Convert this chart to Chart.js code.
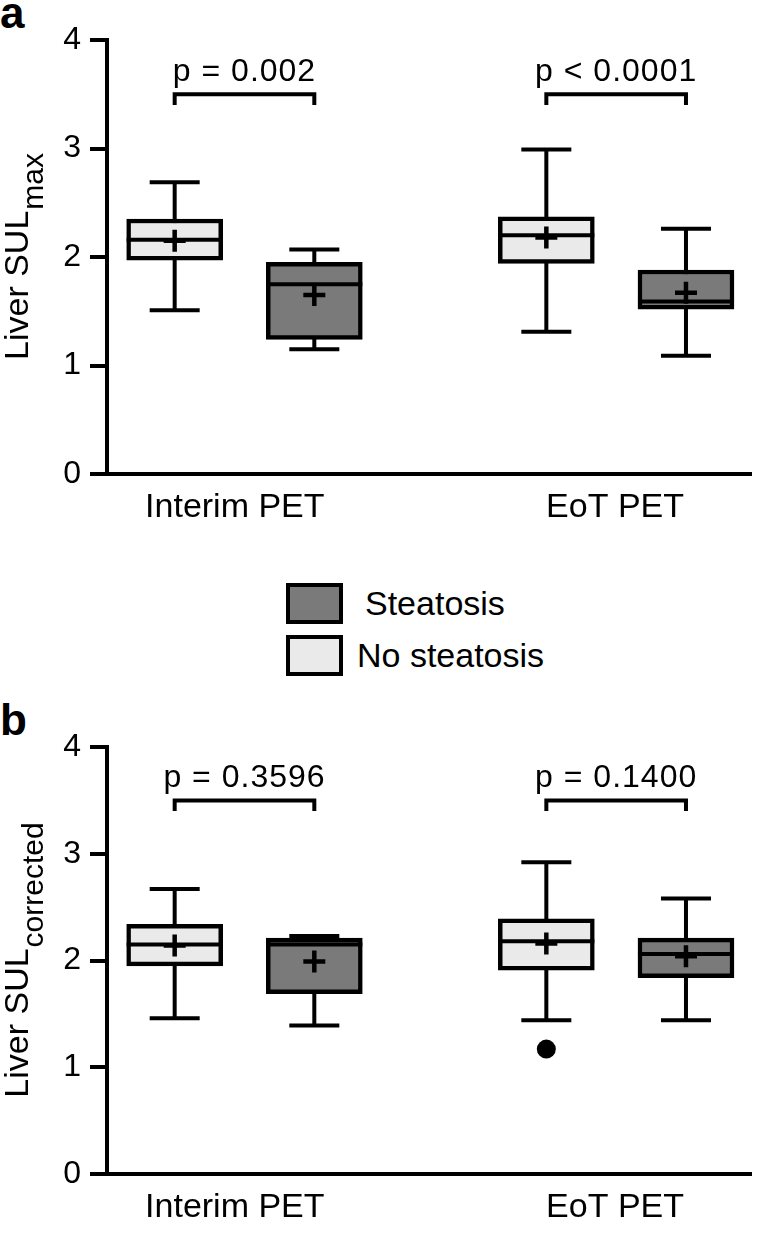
<!DOCTYPE html>
<html>
<head>
<meta charset="utf-8">
<script src="https://cdn.jsdelivr.net/npm/chart.js@4.4.1/dist/chart.umd.min.js"></script>
<style>
html,body{margin:0;padding:0;background:#fff;}
body{width:767px;height:1239px;position:relative;overflow:hidden;font-family:"Liberation Sans",Arial,sans-serif;color:#000;}
canvas{position:absolute;left:0;}
#ca{top:0;}
#cb{top:707px;}
.plabel{position:absolute;left:0;font-weight:bold;font-size:44px;line-height:1;}
.sw{position:absolute;left:286px;width:57px;height:41px;border:4px solid #000;box-sizing:border-box;}
.lt{position:absolute;font-size:34px;line-height:1;white-space:nowrap;}
</style>
</head>
<body>
<div class="plabel" style="top:-9px;">a</div>
<div class="plabel" style="top:698px;">b</div>
<canvas id="ca" width="767" height="545"></canvas>
<canvas id="cb" width="767" height="532"></canvas>
<div class="sw" style="top:583px;background:#7a7a7a;"></div>
<div class="lt" style="left:365px;top:586px;">Steatosis</div>
<div class="sw" style="top:635px;background:#eaeaea;"></div>
<div class="lt" style="left:357px;top:638px;">No steatosis</div>
<script>
// ---------- DATA ----------
const categories = ['Interim PET', 'EoT PET'];
const groupNames = ['Steatosis', 'No steatosis'];
const yTicks = [0, 1, 2, 3, 4];

// five-number summaries per category: [min, q1, median, q3, max]
const sulMaxNoSteatosis = [[1.51, 1.97, 2.16, 2.35, 2.69], [1.31, 1.94, 2.20, 2.37, 2.99]];
const sulMaxNoSteatosisMean = [2.15, 2.18];
const sulMaxSteatosis = [[1.15, 1.24, 1.75, 1.95, 2.07], [1.09, 1.52, 1.59, 1.88, 2.26]];
const sulMaxSteatosisMean = [1.65, 1.67];
const sulMaxPValues = ['p = 0.002', 'p < 0.0001'];

const sulCorrNoSteatosis = [[1.46, 1.95, 2.15, 2.34, 2.67], [1.44, 1.91, 2.18, 2.39, 2.92]];
const sulCorrNoSteatosisMean = [2.14, 2.16];
const sulCorrNoSteatosisOutliers = [[], [1.17]];
const sulCorrSteatosis = [[1.39, 1.69, 2.15, 2.21, 2.23], [1.44, 1.84, 2.06, 2.21, 2.58]];
const sulCorrSteatosisMean = [1.99, 2.04];
const sulCorrPValues = ['p = 0.3596', 'p = 0.1400'];

// ---------- LAYOUT / STYLE ----------
const groupPos = [1.28, 4.74];     // category centres on the x scale (0..6)
const labelPos = [1.19, 4.73];     // where the category names sit
const boxOffset = 0.65;            // offset of each box from its category centre
const bracketY = [3.4, 3.5];       // bracket legs bottom / top value
const FONT = "'Liberation Sans', Arial, sans-serif";
const LIGHT = '#eaeaea', DARK = '#7a7a7a';
Chart.defaults.font.family = FONT;
Chart.defaults.color = '#000';

function makePanel(id, noSt, noStMean, st, stMean, outliers, pvals, titleMain, titleSub, axisBottomOffset) {
  const canvas = document.getElementById(id);
  const xNo = groupPos.map(g => g - boxOffset);
  const xSt = groupPos.map(g => g + boxOffset);
  const boxes = [
    {x: xNo, s: noSt}, {x: xSt, s: st}
  ];
  const boxPlugin = {
    id: 'boxparts',
    beforeDatasetsDraw(chart) {
      const {ctx} = chart; const xs = chart.scales.x, ys = chart.scales.y;
      ctx.save(); ctx.strokeStyle = '#000'; ctx.lineWidth = 4; ctx.lineCap = 'butt';
      boxes.forEach(b => b.s.forEach((f, i) => {
        const cx = xs.getPixelForValue(b.x[i]);
        const yMin = ys.getPixelForValue(f[0]), yMax = ys.getPixelForValue(f[4]);
        ctx.beginPath();
        ctx.moveTo(cx, yMin); ctx.lineTo(cx, yMax);
        ctx.moveTo(cx - 25, yMin); ctx.lineTo(cx + 25, yMin);
        ctx.moveTo(cx - 25, yMax); ctx.lineTo(cx + 25, yMax);
        ctx.stroke();
      }));
      ctx.restore();
    },
    afterDatasetDraw(chart, args) {
      if (args.index > 1) return;
      const {ctx} = chart; const ys = chart.scales.y;
      const meta = chart.getDatasetMeta(args.index);
      const b = boxes[args.index];
      ctx.save(); ctx.strokeStyle = '#000'; ctx.lineWidth = 4;
      meta.data.forEach((el, i) => {
        const y = ys.getPixelForValue(b.s[i][2]);
        ctx.beginPath(); ctx.moveTo(el.x - el.width / 2, y); ctx.lineTo(el.x + el.width / 2, y); ctx.stroke();
      });
      ctx.restore();
    },
    afterDraw(chart) {
      const {ctx, chartArea} = chart; const xs = chart.scales.x, ys = chart.scales.y;
      ctx.save();
      ctx.strokeStyle = '#000'; ctx.fillStyle = '#000'; ctx.lineWidth = 4;
      pvals.forEach((p, i) => {
        const x1 = xs.getPixelForValue(xNo[i]), x2 = xs.getPixelForValue(xSt[i]);
        const yb = ys.getPixelForValue(bracketY[0]), yt = ys.getPixelForValue(bracketY[1]);
        ctx.beginPath();
        ctx.moveTo(x1, yb); ctx.lineTo(x1, yt); ctx.lineTo(x2, yt); ctx.lineTo(x2, yb);
        ctx.stroke();
        ctx.font = '32px ' + FONT;
        ctx.letterSpacing = '1px';
        ctx.textAlign = 'center'; ctx.textBaseline = 'alphabetic';
        ctx.fillText(p, (x1 + x2) / 2, yt - 13);
      });
      // y axis title with subscript
      ctx.letterSpacing = '0px';
      const cy = (chartArea.top + chartArea.bottom) / 2;
      ctx.translate(28, cy); ctx.rotate(-Math.PI / 2);
      ctx.textAlign = 'left'; ctx.textBaseline = 'alphabetic';
      ctx.font = '34px ' + FONT; const w1 = ctx.measureText(titleMain).width;
      ctx.font = '30px ' + FONT; const w2 = ctx.measureText(titleSub).width;
      const start = -(w1 + w2) / 2;
      ctx.font = '34px ' + FONT; ctx.fillText(titleMain, start, 0);
      ctx.font = '30px ' + FONT; ctx.fillText(titleSub, start + w1 + 1, 15);
      ctx.restore();
    }
  };
  const outPts = [];
  outliers.forEach((arr, i) => arr.forEach(v => outPts.push({x: xNo[i], y: v})));
  return new Chart(canvas, {
    type: 'bar',
    data: {
      datasets: [
        {label: groupNames[1], data: noSt.map((f, i) => ({x: xNo[i], y: [f[1], f[3]]})),
         backgroundColor: LIGHT, borderColor: '#000', borderWidth: 4.5, borderSkipped: false,
         grouped: false, barThickness: 96, order: 2},
        {label: groupNames[0], data: st.map((f, i) => ({x: xSt[i], y: [f[1], f[3]]})),
         backgroundColor: DARK, borderColor: '#000', borderWidth: 4.5, borderSkipped: false,
         grouped: false, barThickness: 96, order: 2},
        {type: 'scatter', label: 'mean', data: noStMean.map((v, i) => ({x: xNo[i], y: v})).concat(stMean.map((v, i) => ({x: xSt[i], y: v}))),
         pointStyle: 'cross', pointRadius: 11, pointBorderWidth: 4.5, borderColor: '#000', order: 0},
        {type: 'scatter', label: 'outliers', data: outPts,
         pointStyle: 'circle', pointRadius: 9.5, backgroundColor: '#000', borderColor: '#000', pointBorderWidth: 0, order: 0}
      ]
    },
    options: {
      responsive: false, animation: false, devicePixelRatio: 1,
      layout: {padding: {left: 0, right: 9, top: 40, bottom: 0}},
      plugins: {legend: {display: false}, tooltip: {enabled: false}},
      scales: {
        x: {
          type: 'linear', min: 0, max: 6, offset: false, bounds: 'data',
          afterBuildTicks: s => { s.ticks = labelPos.map(v => ({value: v})); },
          afterFit: s => { s.height = axisBottomOffset; },
          ticks: {callback: (v, i) => categories[i], font: {size: 34}, color: '#000', padding: 13, maxRotation: 0, autoSkip: false},
          grid: {display: false, drawTicks: false},
          border: {display: true, color: '#000', width: 4}
        },
        y: {
          min: 0, max: 4,
          afterBuildTicks: s => { s.ticks = yTicks.map(v => ({value: v})); },
          afterFit: s => { s.width = 107; },
          ticks: {font: {size: 32}, color: '#000', padding: 9},
          grid: {drawOnChartArea: false, drawTicks: true, tickLength: 17, tickWidth: 4, tickColor: '#000', color: '#000', lineWidth: 4},
          border: {display: true, color: '#000', width: 4}
        }
      }
    },
    plugins: [boxPlugin]
  });
}

makePanel('ca', sulMaxNoSteatosis, sulMaxNoSteatosisMean, sulMaxSteatosis, sulMaxSteatosisMean, [[], []],
  sulMaxPValues, 'Liver SUL', 'max', 545 - 474);
makePanel('cb', sulCorrNoSteatosis, sulCorrNoSteatosisMean, sulCorrSteatosis, sulCorrSteatosisMean, sulCorrNoSteatosisOutliers,
  sulCorrPValues, 'Liver SUL', 'corrected', 532 - (1174 - 707));
</script>
</body>
</html>
